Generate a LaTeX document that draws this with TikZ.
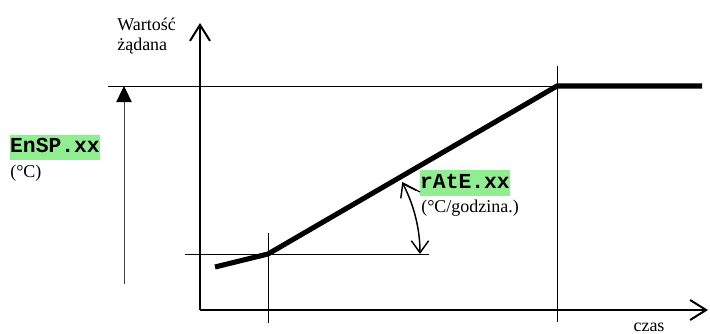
\documentclass[tikz,border=0pt]{standalone}
\usepackage{fontspec}
\setmainfont{Liberation Serif}
\newfontfamily\codefont{Liberation Mono}
\usetikzlibrary{arrows.meta}
\definecolor{hlgreen}{RGB}{144,238,144}
\begin{document}
\begin{tikzpicture}[x=0.75pt,y=0.75pt,
  axisline/.style={line width=1.5pt,-{Straight Barb[length=12pt,width=15pt]}},
  thinline/.style={line width=0.75pt},
  ramp/.style={line width=3.8pt},
  codebox/.style={fill=hlgreen,inner xsep=0.5pt,inner ysep=1.5pt,text height=12pt,text depth=4pt,font=\codefont\bfseries\fontsize{16pt}{18pt}\selectfont},
  plain/.style={inner sep=0pt,font=\fontsize{13.5pt}{15pt}\selectfont},
]
\useasboundingbox (0,0) rectangle (710,333);
% coordinates
\coordinate (O) at (200,23);
\coordinate (ytop) at (200,310);
\coordinate (xend) at (708,23);
\coordinate (hl1) at (108,247);
\coordinate (P2) at (557,247);
\coordinate (rend) at (702,247);
\coordinate (v2t) at (557,267);
\coordinate (v2b) at (557,11);
\coordinate (v1t) at (268,100);
\coordinate (v1b) at (268,10);
\coordinate (h2l) at (185,79);
\coordinate (h2r) at (429,79);
\coordinate (P0) at (215,66);
\coordinate (P1) at (268,79);
\coordinate (lab) at (124,49);
\coordinate (lat) at (124,247);
\coordinate (arcA) at (420,79);
\coordinate (arcB) at (402.2,150.4);
% thin guide lines
\draw[thinline] (hl1) -- (P2);
\draw[thinline] (v2t) -- (v2b);
\draw[thinline] (v1t) -- (v1b);
\draw[thinline] (h2l) -- (h2r);
% axes
\draw[axisline] (O) -- (ytop);
\draw[axisline] (O) -- (xend);
% ramp
\draw[ramp] (P0) -- (P1) -- (P2) -- (rend);
% left arrow
\draw[line width=0.75pt,black!75,-{Triangle[length=12pt,width=11.5pt,black]}] (lab) -- (lat);
% angle arrow
\draw[line width=1.1pt,{Straight Barb[length=9pt,width=13pt]}-{Straight Barb[length=9pt,width=13pt]}] (arcB) arc[start angle=28,end angle=0,radius=152];
% labels
\node[codebox] (ensp) at (55,185.5) {EnSP.xx};
\node[plain,anchor=base west] (enspu) at (10,156) {(°C)};
\node[codebox] (rate) at (465,150) {rAtE.xx};
\node[plain,anchor=base west] (rateu) at (421,121) {(°C/godzina.)};
\draw[line width=0.9pt] (420,141) -- (arcB);
\node[plain,anchor=north west,align=left] (ylab) at (117,315) {Wartość\\żądana};
\node[plain,anchor=base] (xlab) at (649,2) {czas};
\end{tikzpicture}
\end{document}
